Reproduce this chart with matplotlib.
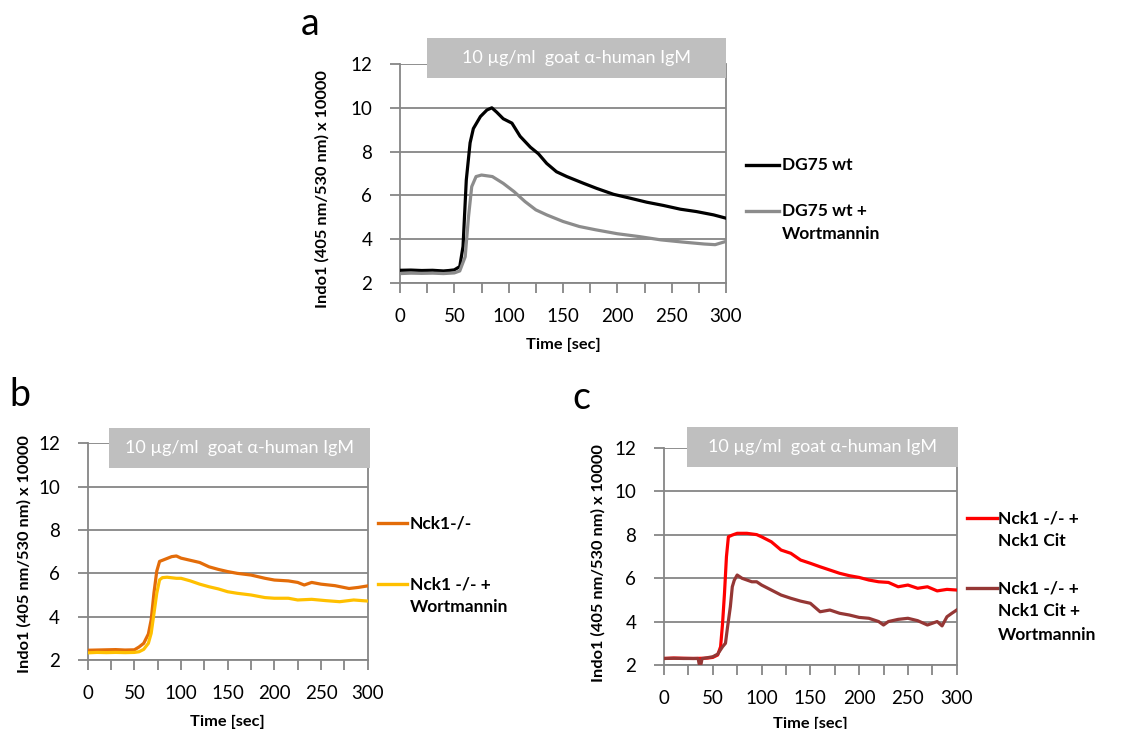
import matplotlib
matplotlib.use("Agg")
import matplotlib.pyplot as plt
from matplotlib.patches import Rectangle
from matplotlib.ticker import MultipleLocator

plt.rcParams['font.family'] = ['Lato', 'DejaVu Sans']

# ---------------- data ----------------
# Panel a
a_wt_t = [0, 10, 20, 30, 40, 45, 50, 55, 58, 61, 64.5, 67.5, 74, 80, 84.5, 89, 95, 103, 110.5,
          120, 127.4, 135, 144, 153.5, 169, 181, 196.5, 212, 227, 242.5, 258, 273, 288.6, 300]
a_wt_v = [2.58, 2.59, 2.57, 2.58, 2.55, 2.57, 2.6, 2.75, 3.67, 6.7, 8.4, 9.05, 9.6, 9.9, 10.0, 9.8,
          9.5, 9.3, 8.7, 8.2, 7.9, 7.46, 7.08, 6.86, 6.55, 6.32, 6.05, 5.87, 5.69, 5.54, 5.37, 5.26, 5.11, 4.96]
a_wm_t = [0, 10, 20, 30, 40, 50, 55, 60, 63, 66, 70, 75, 85, 95, 105, 115, 125, 135, 150, 165,
          180, 200, 220, 240, 260, 280, 290, 300]
a_wm_v = [2.43, 2.45, 2.44, 2.45, 2.43, 2.46, 2.55, 3.2, 5.0, 6.4, 6.86, 6.93, 6.86, 6.55, 6.17,
          5.72, 5.34, 5.11, 4.81, 4.58, 4.43, 4.25, 4.12, 3.97, 3.87, 3.78, 3.75, 3.9]

# Panel b
b_ko_t = [0, 10, 20, 30, 40, 50, 55, 60, 65, 68, 71, 74, 77, 80, 90, 95, 100, 110, 120, 130, 140,
          150, 160, 175, 190, 200, 215, 225, 232, 240, 250, 265, 280, 290, 300]
b_ko_v = [2.45, 2.46, 2.47, 2.48, 2.46, 2.47, 2.6, 2.77, 3.2, 3.85, 5.1, 6.1, 6.55, 6.6, 6.77, 6.8,
          6.7, 6.6, 6.5, 6.3, 6.18, 6.08, 6.0, 5.92, 5.77, 5.69, 5.65, 5.58, 5.46, 5.58, 5.5, 5.43,
          5.3, 5.35, 5.42]
b_wm_t = [0, 10, 20, 30, 40, 50, 55, 60, 65, 68, 71, 74, 77, 80, 85, 95, 100, 110, 120, 130, 140,
          150, 160, 175, 190, 200, 215, 225, 240, 255, 270, 285, 300]
b_wm_v = [2.33, 2.35, 2.34, 2.35, 2.34, 2.35, 2.38, 2.49, 2.77, 3.23, 4.15, 5.08, 5.7, 5.8, 5.82,
          5.77, 5.77, 5.65, 5.5, 5.38, 5.28, 5.15, 5.08, 5.0, 4.88, 4.85, 4.85, 4.77, 4.8, 4.74,
          4.69, 4.77, 4.72]

# Panel c
c_cit_t = [0, 10, 20, 30, 40, 45, 50, 55, 58, 60, 62, 64, 66, 70, 75, 85, 95, 100, 110, 120, 130,
           140, 150, 160, 170, 180, 190, 200, 210, 220, 230, 240, 250, 260, 270, 280, 290, 300]
c_cit_v = [2.3, 2.32, 2.31, 2.3, 2.31, 2.32, 2.35, 2.46, 2.84, 3.9, 5.3, 6.98, 7.9, 7.98, 8.06,
           8.06, 8.0, 7.9, 7.67, 7.29, 7.14, 6.83, 6.68, 6.52, 6.37, 6.22, 6.11, 6.03, 5.91, 5.83,
           5.8, 5.6, 5.68, 5.53, 5.6, 5.41, 5.48, 5.45]
c_wm_t = [0, 10, 20, 30, 35, 36, 38, 39, 40, 50, 55, 60, 63, 65, 68, 70, 72, 75, 80, 90, 95, 100,
          110, 120, 130, 140, 150, 160, 170, 180, 190, 200, 210, 220, 225, 230, 240, 250, 260,
          270, 280, 285, 290, 295, 300]
c_wm_v = [2.3, 2.31, 2.3, 2.3, 2.3, 2.05, 2.05, 2.3, 2.3, 2.38, 2.5, 2.84, 3.0, 3.7, 4.68, 5.6,
          5.9, 6.14, 5.99, 5.83, 5.83, 5.68, 5.45, 5.22, 5.07, 4.94, 4.84, 4.45, 4.53, 4.38, 4.3,
          4.19, 4.15, 4.0, 3.84, 4.0, 4.1, 4.15, 4.04, 3.84, 4.0, 3.8, 4.22, 4.38, 4.53]

x_ticks = [0, 50, 100, 150, 200, 250, 300]
y_ticks = [2, 4, 6, 8, 10, 12]
stim_label = "10 µg/ml  goat α-human IgM"
y_label = "Indo1 (405 nm/530 nm) x 10000"
x_label = "Time [sec]"

AX_GRAY = "#868686"
BOX_GRAY = "#BFBFBF"

fig = plt.figure(figsize=(11.45, 7.29), dpi=100)
W, H = 1145, 729


def px_axes(x0, y0, x1, y1):
    return fig.add_axes([x0 / W, (H - y1) / H, (x1 - x0) / W, (y1 - y0) / H])


def style(ax, box, ylab_x, ylab_y):
    ax.set_xlim(0, 300)
    ax.set_ylim(2, 12)
    ax.set_xticks(x_ticks)
    ax.xaxis.set_minor_locator(MultipleLocator(25))
    ax.set_yticks(y_ticks)
    ax.yaxis.grid(True, color=AX_GRAY, linewidth=1.3)
    ax.set_axisbelow(True)
    for s in ['left', 'bottom', 'right']:
        ax.spines[s].set_color(AX_GRAY)
        ax.spines[s].set_linewidth(1.3)
    ax.spines['top'].set_visible(False)
    ax.tick_params(axis='both', which='both', color=AX_GRAY, width=1.3, length=7,
                   direction='out', labelsize=13.5, labelcolor='black')
    ax.tick_params(axis='y', pad=13)
    ax.tick_params(axis='x', pad=11)
    ax.set_ylabel(y_label, fontsize=11.8, fontweight='bold')
    ax.yaxis.set_label_coords(ylab_x, ylab_y)
    ax.set_xlabel(x_label, fontsize=11.8, fontweight='bold', labelpad=9)
    x0, x1, y0, y1 = box
    ax.add_patch(Rectangle((x0, y0), x1 - x0, y1 - y0, facecolor=BOX_GRAY, edgecolor='none',
                           clip_on=False, zorder=5))
    ax.text((x0 + x1) / 2, (y0 + y1) / 2, stim_label, color='white', fontsize=13,
            ha='center', va='center', zorder=6, clip_on=False)


def legend(ax, items, xl0, xl1, xt):
    for color, y, text in items:
        ax.plot([xl0, xl1], [y, y], color=color, linewidth=2.4, transform=ax.transAxes,
                clip_on=False)
        ax.annotate(text, xy=(xt, y), xycoords='axes fraction', xytext=(0, 5.6),
                    textcoords='offset points', fontsize=12.5, fontweight='bold',
                    ha='left', va='top', linespacing=1.55)


# Panel a
axa = px_axes(400, 64, 726, 283)
axa.plot(a_wt_t, a_wt_v, color='black', linewidth=2.3, zorder=3)
axa.plot(a_wm_t, a_wm_v, color='#8C8C8C', linewidth=2.3, zorder=3)
style(axa, (25, 300, 11.36, 13.18), -0.215, 0.43)
legend(axa, [('black', 0.539, 'DG75 wt'), ('#8C8C8C', 0.329, 'DG75 wt +\nWortmannin')],
       1.061, 1.163, 1.172)
fig.text(310 / W, 1 - 24 / H, 'a', fontsize=27, ha='center', va='center')

# Panel b
axb = px_axes(87.7, 443.3, 367.7, 660)
axb.plot(b_ko_t, b_ko_v, color='#E36C09', linewidth=2.3, zorder=3)
axb.plot(b_wm_t, b_wm_v, color='#FFC000', linewidth=2.3, zorder=3)
style(axb, (22.8, 302.5, 10.86, 12.71), -0.2, 0.49)
legend(axb, [('#E36C09', 0.632, 'Nck1-/-'), ('#FFC000', 0.351, 'Nck1 -/- +\nWortmannin')],
       1.037, 1.14, 1.151)
fig.text(20 / W, 1 - 395 / H, 'b', fontsize=27, ha='center', va='center')

# Panel c
axc = px_axes(664, 447.7, 956.7, 665)
axc.plot(c_cit_t, c_cit_v, color='#FF0000', linewidth=2.3, zorder=3)
axc.plot(c_wm_t, c_wm_v, color='#953735', linewidth=2.3, zorder=3)
style(axc, (23.3, 301, 11.13, 12.95), -0.2, 0.47)
axc.xaxis.labelpad = 7
legend(axc, [('#FF0000', 0.676, 'Nck1 -/- +\nNck1 Cit'),
             ('#953735', 0.354, 'Nck1 -/- +\nNck1 Cit +\nWortmannin')],
       1.035, 1.138, 1.141)
fig.text(581 / W, 1 - 398 / H, 'c', fontsize=27, ha='center', va='center')

fig.savefig('out.png', dpi=100, facecolor='white')
